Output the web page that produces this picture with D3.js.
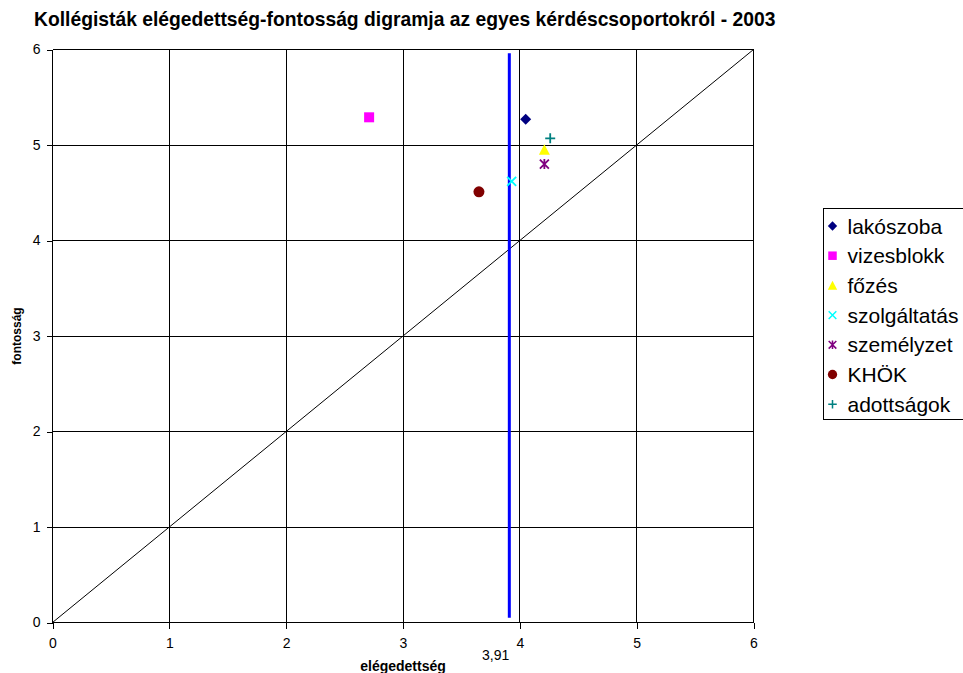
<!DOCTYPE html>
<meta charset="utf-8">
<head>
</head>
<body style="margin:0;background:#fff">
<style>
text { font-family: "Liberation Sans", Arial, sans-serif; fill: #000; }
.grid line { stroke: #000; stroke-width: 1; shape-rendering: crispEdges; }
.axis text { font-size: 14px; font-family: "Liberation Sans", Arial, sans-serif; }
.axis path, .axis line { stroke: #000; shape-rendering: crispEdges; }
</style>
<svg width="963" height="673"></svg>
<script src="https://cdn.jsdelivr.net/npm/d3@7"></script>
<script>
// data
var names  = ["lakószoba", "vizesblokk", "főzés", "szolgáltatás", "személyzet", "KHÖK", "adottságok"];
var elegedettseg = [4.05, 2.71, 4.21, 3.93, 4.21, 3.65, 4.26];
var fontossag    = [5.27, 5.29, 4.95, 4.62, 4.80, 4.51, 5.07];
var colors = ["#000080", "#ff00ff", "#ffff00", "#00ffff", "#800080", "#800000", "#008080"];
var shapes = ["diamond", "square", "triangle", "x", "star", "circle", "plus"];
var ticks = [0, 1, 2, 3, 4, 5, 6];
var limit = 3.91;   // vertical blue line
var limitSpan = [0.05, 5.96];

var svg = d3.select("svg");
var x = d3.scaleLinear().domain([0, 6]).range([52.5, 753.5]);
var y = d3.scaleLinear().domain([0, 6]).range([622.5, 49.5]);

svg.append("text")
  .attr("x", 34).attr("y", 26)
  .style("font-size", "19.3px").style("font-weight", "bold")
  .text("Kollégisták elégedettség-fontosság digramja az egyes kérdéscsoportokról - 2003");

// gridlines
var grid = svg.append("g").attr("class", "grid");
grid.selectAll(".v").data(ticks.slice(1)).enter().append("line")
  .attr("x1", d => x(d)).attr("x2", d => x(d))
  .attr("y1", y(0)).attr("y2", y(6));
grid.selectAll(".h").data(ticks.slice(1)).enter().append("line")
  .attr("y1", d => y(d)).attr("y2", d => y(d))
  .attr("x1", x(0)).attr("x2", x(6));

// axes
svg.append("g").attr("class", "axis")
  .attr("transform", "translate(0," + y(0) + ")")
  .call(d3.axisBottom(x).tickValues(ticks).tickSize(6).tickPadding(10).tickSizeOuter(0).tickFormat(d3.format("d")));
svg.append("g").attr("class", "axis")
  .attr("transform", "translate(" + x(0) + ",0)")
  .call(d3.axisLeft(y).tickValues(ticks).tickSize(6).tickPadding(6).tickSizeOuter(0).tickFormat(d3.format("d")));
svg.selectAll(".axis .domain").remove();
svg.append("line").attr("x1", x(0)).attr("x2", x(6)).attr("y1", y(0)).attr("y2", y(0))
  .attr("stroke", "#000").attr("shape-rendering", "crispEdges");
svg.append("line").attr("x1", x(0)).attr("x2", x(0)).attr("y1", y(0)).attr("y2", y(6))
  .attr("stroke", "#000").attr("shape-rendering", "crispEdges");

// diagonal
svg.append("line")
  .attr("x1", x(0)).attr("y1", y(0)).attr("x2", x(6)).attr("y2", y(6))
  .attr("stroke", "#000").attr("stroke-width", 1);

// blue limit line
svg.append("line")
  .attr("x1", x(limit)).attr("x2", x(limit))
  .attr("y1", y(limitSpan[0])).attr("y2", y(limitSpan[1]))
  .attr("stroke", "#0000ff").attr("stroke-width", 3);
svg.append("text")
  .attr("x", x(limit)).attr("y", 660)
  .attr("text-anchor", "end")
  .style("font-size", "14px")
  .text("3,91");

// axis titles
svg.append("text")
  .attr("x", (x(0) + x(6)) / 2).attr("y", 671)
  .attr("text-anchor", "middle")
  .style("font-size", "14px").style("font-weight", "bold")
  .text("elégedettség");
svg.append("text")
  .attr("transform", "translate(21," + (y(0) + y(6)) / 2 + ") rotate(-90)")
  .attr("text-anchor", "middle")
  .style("font-size", "12px").style("font-weight", "bold")
  .text("fontosság");

function marker(g, shape, color) {
  if (shape === "diamond") {
    g.append("path").attr("d", "M0,-5.5L5.5,0L0,5.5L-5.5,0Z").attr("fill", color);
  } else if (shape === "square") {
    g.append("rect").attr("x", -5).attr("y", -5).attr("width", 10).attr("height", 10).attr("fill", color);
  } else if (shape === "triangle") {
    g.append("path").attr("d", "M0,-5.5L5.5,5L-5.5,5Z").attr("fill", color);
  } else if (shape === "circle") {
    g.append("circle").attr("r", 5.5).attr("fill", color);
  } else if (shape === "x") {
    g.append("path").attr("d", "M-4.5,-4.5L4.5,4.5M-4.5,4.5L4.5,-4.5")
      .attr("stroke", color).attr("stroke-width", 1.8).attr("fill", "none");
  } else if (shape === "star") {
    g.append("path").attr("d", "M-4.5,-4.5L4.5,4.5M-4.5,4.5L4.5,-4.5M0,-5L0,5")
      .attr("stroke", color).attr("stroke-width", 1.8).attr("fill", "none");
  } else if (shape === "plus") {
    g.append("path").attr("d", "M-5,0L5,0M0,-5L0,5")
      .attr("stroke", color).attr("stroke-width", 1.8).attr("fill", "none");
  }
}

// points
names.forEach(function(n, i) {
  var g = svg.append("g")
    .attr("transform", "translate(" + x(elegedettseg[i]) + "," + y(fontossag[i]) + ")");
  marker(g, shapes[i], colors[i]);
});

// legend
var legend = svg.append("g").attr("transform", "translate(823.5,208.5)");
legend.append("rect").attr("width", 160).attr("height", 211)
  .attr("fill", "#fff").attr("stroke", "#000").attr("stroke-width", 1);
names.forEach(function(n, i) {
  var row = legend.append("g").attr("transform", "translate(0," + (17.5 + i * 29.7) + ")");
  var m = row.append("g").attr("transform", "translate(9,0) scale(0.85)");
  marker(m, shapes[i], colors[i]);
  row.append("text").attr("x", 24).attr("y", 7.5)
    .style("font-size", "21px")
    .text(n);
});
</script>
</body>
